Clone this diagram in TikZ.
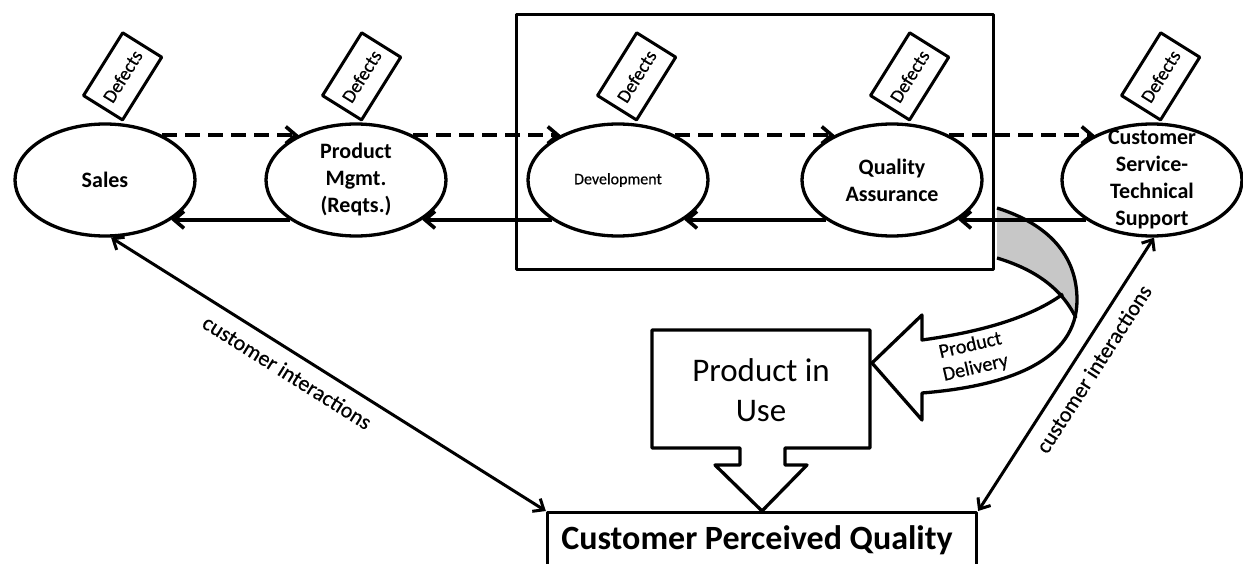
\documentclass[tikz,border=0pt]{standalone}
\usepackage{fontspec}
\setmainfont{Carlito}
\newfontfamily\medfont[FakeBold=0.5]{Carlito}
\usetikzlibrary{arrows.meta,shapes.geometric,calc}

\begin{document}
\begin{tikzpicture}[x=1pt,y=-1pt,line join=round,
  dept/.style={ellipse,draw,line width=3.3pt,minimum width=180pt,minimum height=112pt,inner sep=0pt},
  deptlabel/.style={align=center,inner sep=0pt,font=\fontsize{22}{27}\selectfont\bfseries},
  tag/.style={draw,line width=3pt,rotate=58,minimum width=74pt,minimum height=46pt,inner sep=0pt,
    anchor=south west,font=\medfont\fontsize{19}{22}\selectfont},
  flow/.style={line width=3.6pt,dash pattern=on 15pt off 8pt,-{Straight Barb[length=10pt,width=17pt]}},
  back/.style={line width=3.6pt,-{Straight Barb[length=10pt,width=17pt]}},
  cust/.style={line width=3pt,{Straight Barb[length=9pt,width=15pt]}-{Straight Barb[length=9pt,width=15pt]}},
  ilabel/.style={font=\medfont\fontsize{22}{24}\selectfont,sloped,below,inner sep=11pt},
  outline/.style={draw,line width=3.3pt},
]
\useasboundingbox (0,0) rectangle (1243,564);
\clip (0,0) rectangle (1243,564);

% departments
\node[dept] (sales) at (105,180) {};
\node[dept] (pm)    at (356,180) {};
\node[dept] (dev)   at (618,180) {};
\node[dept] (qa)    at (892,180) {};
\node[dept] (cs)    at (1152,180) {};
\node[deptlabel] (sales-t) at (sales) {Sales};
\node[deptlabel] (pm-t)    at (pm) {Product\\Mgmt.\\(Reqts.)};
\node[deptlabel,font=\medfont\fontsize{16}{20}\selectfont] (dev-t) at (dev) {Development};
\node[deptlabel] (qa-t)    at (qa) {Quality\\Assurance};
\node[deptlabel] (cs-t)    at (cs) {Customer\\Service-\\Technical\\Support};

% defect tags
\node[tag] (d1) at (123,122) {Defects};
\node[tag] (d2) at (362,122) {Defects};
\node[tag] (d3) at (637,122) {Defects};
\node[tag] (d4) at (910,122) {Defects};
\node[tag] (d5) at (1161,122) {Defects};

% engineering frame
\node[outline,line width=3.6pt,minimum width=477pt,minimum height=255pt] (core) at (755,142) {};

% product delivery ribbon
\fill[black!22] (997,208) .. controls (1048,224) and (1077,255) .. (1077,300)
  -- (1076,318) .. controls (1060,285) and (1030,268) .. (997,258) -- cycle;
\draw[line width=3.3pt] (997,208) .. controls (1048,224) and (1077,255) .. (1077,300)
  .. controls (1077,360) and (1010,386) .. (922,393)
  -- (922,420) -- (872,363) -- (922,315) -- (922,340)
  .. controls (980,332) and (1030,318) .. (1063,294);
\draw[line width=3.3pt] (997,258) .. controls (1030,268) and (1060,285) .. (1076,318);
\node[rotate=13,align=center,font=\medfont\fontsize{20}{23}\selectfont] (pd) at (973,357) {Product\\Delivery};

% forward (dashed) flow
\draw[flow] (sales.38) -- (pm.142);
\draw[flow] (pm.38) -- (dev.142);
\draw[flow] (dev.38) -- (qa.142);
\draw[flow] (qa.38) -- (cs.142);

% backward flow
\draw[back] (cs.-149) -- (qa.-31);
\draw[back] (qa.-149) -- (dev.-31);
\draw[back] (dev.-149) -- (pm.-31);
\draw[back] (pm.-149) -- (sales.-31);

% product in use callout
\draw[outline] (652,330) -- (870,330) -- (870,448) -- (785,448) -- (785,465) -- (807,465)
  -- (762,511) -- (715,465) -- (740,465) -- (740,448) -- (652,448) -- cycle;
\node[align=center,font=\fontsize{33}{40}\selectfont] (piu) at (761,390) {Product in\\Use};

% customer perceived quality
\node[outline,minimum width=429pt,minimum height=110pt,anchor=north] (cpq) at (762,511) {};
\node[font=\fontsize{34}{36}\selectfont\bfseries] (cpq-t) at (757,540) {Customer Perceived Quality};

% customer interactions
\draw[cust] (sales.-84) -- node[ilabel,pos=0.43] (ci1) {customer interactions} (cpq.north west);
\draw[cust] (cpq.north east) -- node[ilabel,pos=0.56] (ci2) {customer interactions} (cs.-88);
\end{tikzpicture}
\end{document}
